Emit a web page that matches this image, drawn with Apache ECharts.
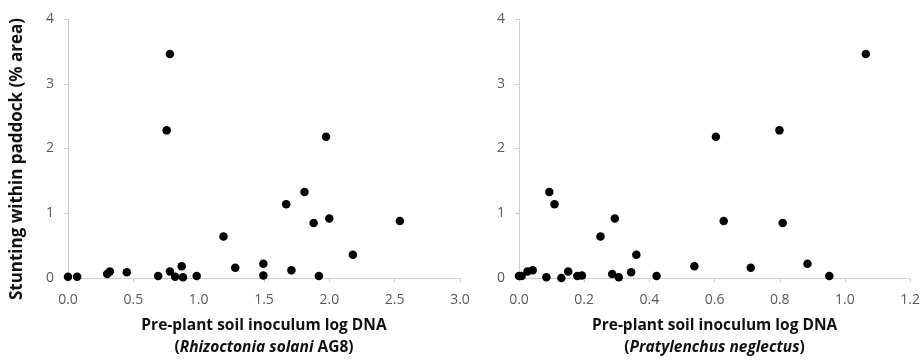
<!DOCTYPE html>
<html>
<head>
<meta charset="utf-8">
<script src="https://cdn.jsdelivr.net/npm/echarts@6/dist/echarts.min.js"></script>
<style>
  html, body { margin: 0; padding: 0; background: #fff; }
  #chart { width: 923px; height: 361px; }
</style>
</head>
<body>
<div id="chart"></div>
<script>
// left panel: Rhizoctonia solani AG8
const rhizoX = [0.0, 0.07, 0.30, 0.32, 0.45, 0.69, 0.78, 0.755, 0.78, 0.82, 0.87, 0.88, 0.985,
    1.19, 1.28, 1.495, 1.495, 1.67, 1.71, 1.81, 1.88, 1.92, 1.975, 2.0, 2.18, 2.54];
const rhizoY = [0.02, 0.02, 0.06, 0.10, 0.09, 0.03, 3.46, 2.28, 0.10, 0.02, 0.18, 0.01, 0.03,
    0.64, 0.16, 0.22, 0.04, 1.14, 0.12, 1.33, 0.85, 0.03, 2.18, 0.92, 0.36, 0.88];

// right panel: Pratylenchus neglectus
const pratX = [0.0, 0.008, 0.026, 0.042, 0.084, 0.093, 0.109, 0.13, 0.151, 0.179, 0.193, 0.25,
    0.286, 0.294, 0.306, 0.344, 0.36, 0.422, 0.538, 0.604, 0.628, 0.711, 0.799, 0.809, 0.885, 0.952, 1.064];
const pratY = [0.03, 0.03, 0.10, 0.12, 0.01, 1.33, 1.14, 0.0, 0.10, 0.03, 0.04, 0.64,
    0.06, 0.92, 0.01, 0.09, 0.36, 0.03, 0.18, 2.18, 0.88, 0.16, 2.28, 0.85, 0.22, 0.03, 3.46];

const yTicks = [0, 1, 2, 3, 4];
const yTitle = 'Stunting within paddock (% area)';

const font = 'Open Sans, sans-serif';
const axisColor = '#d0d0d0';
const labelColor = '#595959';

const pairs = (xs, ys) => xs.map((x, i) => [x, ys[i]]);

const chart = echarts.init(document.getElementById('chart'));

const xAxisBase = {
    type: 'value',
    nameLocation: 'middle',
    nameGap: 37,
    axisLine: { show: true, lineStyle: { color: axisColor } },
    axisTick: { show: true, length: 4, lineStyle: { color: axisColor } },
    splitLine: { show: false },
    axisLabel: { color: labelColor, fontSize: 14, fontFamily: font, margin: 15,
        formatter: v => v.toFixed(1) },
    nameTextStyle: {
        color: '#111',
        rich: {
            b: { fontFamily: font, fontWeight: 'bold', fontSize: 15.5, color: '#111', lineHeight: 22 },
            i: { fontFamily: font, fontWeight: 'bold', fontStyle: 'italic', fontSize: 15.5, color: '#111', lineHeight: 22 },
        },
    },
};

const yAxisBase = {
    type: 'value',
    min: yTicks[0],
    max: yTicks[yTicks.length - 1],
    interval: 1,
    axisLine: { show: true, lineStyle: { color: axisColor } },
    axisTick: { show: true, length: 4, lineStyle: { color: axisColor } },
    splitLine: { show: false },
    axisLabel: { color: labelColor, fontSize: 14, fontFamily: font, margin: 14 },
};

const option = {
    animation: false,
    grid: [
        { left: 68, top: 19, width: 392, height: 259 },
        { left: 519, top: 19, width: 392, height: 259 },
    ],
    graphic: [{
        type: 'text',
        x: 17,
        y: 159,
        rotation: Math.PI / 2,
        style: {
            text: yTitle,
            fontFamily: font,
            fontWeight: 'bold',
            fontSize: 17,
            fill: '#111',
            align: 'center',
            verticalAlign: 'middle',
        },
    }],
    xAxis: [
        Object.assign({}, xAxisBase, {
            gridIndex: 0, min: 0, max: 3, interval: 0.5,
            name: '{b|Pre-plant soil inoculum log DNA}\n{b|(}{i|Rhizoctonia solani}{b| AG8)}',
        }),
        Object.assign({}, xAxisBase, {
            gridIndex: 1, min: 0, max: 1.2, interval: 0.2,
            name: '{b|Pre-plant soil inoculum log DNA}\n{b|(}{i|Pratylenchus neglectus}{b|)}',
        }),
    ],
    yAxis: [
        Object.assign({}, yAxisBase, { gridIndex: 0 }),
        Object.assign({}, yAxisBase, { gridIndex: 1 }),
    ],
    series: [
        {
            type: 'scatter', xAxisIndex: 0, yAxisIndex: 0,
            data: pairs(rhizoX, rhizoY),
            symbolSize: 8.5,
            itemStyle: { color: '#000', opacity: 1 },
        },
        {
            type: 'scatter', xAxisIndex: 1, yAxisIndex: 1,
            data: pairs(pratX, pratY),
            symbolSize: 8.5,
            itemStyle: { color: '#000', opacity: 1 },
        },
    ],
};

chart.setOption(option);
</script>
</body>
</html>
